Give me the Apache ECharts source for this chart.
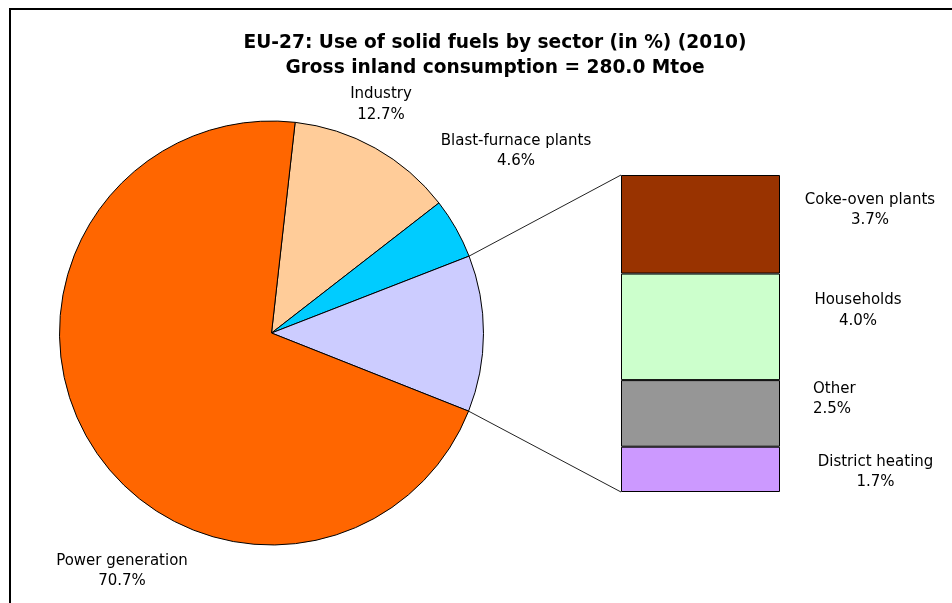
<!DOCTYPE html>
<html>
<head>
<meta charset="utf-8">
<script src="https://cdn.jsdelivr.net/npm/echarts@6/dist/echarts.min.js"></script>
<style>
html,body{margin:0;padding:0;background:#fff;}
#main{width:952px;height:603px;}
</style>
</head>
<body>
<div id="main"></div>
<script>
// ---- data ----
const mainCategories = ['Industry', 'Blast-furnace plants', 'Power generation'];
const mainValues = [12.7, 4.6, 70.7];
const subCategories = ['Coke-oven plants', 'Households', 'Other', 'District heating'];
const subValues = [3.7, 4.0, 2.5, 1.7];
const titleLines = ['EU-27: Use of solid fuels by sector (in %) (2010)', 'Gross inland consumption = 280.0 Mtoe'];

// ---- styles ----
const mainColors = ['#FFCC99', '#00CCFF', '#FF6600'];
const groupColor = '#CCCCFF';
const subColors = ['#993300', '#CCFFCC', '#969696', '#CC99FF'];
const FONT = 'DejaVu Sans';

const subTotal = +subValues.reduce((a, b) => a + b, 0).toFixed(1);

// pie order (clockwise): Industry, Blast-furnace, [group], Power generation
const pieData = [
  { name: mainCategories[0], value: mainValues[0], itemStyle: { color: mainColors[0] } },
  { name: mainCategories[1], value: mainValues[1], itemStyle: { color: mainColors[1] } },
  { name: 'Other sectors', value: subTotal, itemStyle: { color: groupColor }, label: { show: false } },
  { name: mainCategories[2], value: mainValues[2], itemStyle: { color: mainColors[2] } }
];

const PIE_CENTER = [271.5, 333];
const PIE_R = 212;
const START_ANGLE = 83.6;

const pieLabelPos = {
  0: { x: 381, y: 104.5 },
  1: { x: 516, y: 151 },
  3: { x: 122, y: 571 }
};
const barLabelPos = [
  { x: 870, y: 210, align: 'center' },
  { x: 858, y: 310.5, align: 'center' },
  { x: 813, y: 399, align: 'left' },
  { x: 875.5, y: 472, align: 'center' }
];

const chart = echarts.init(document.getElementById('main'), null, { renderer: 'canvas' });

const labelStyle = {
  fontFamily: FONT,
  fontSize: 15,
  lineHeight: 20.5,
  color: '#000',
  overflow: 'none'
};

const barSeries = subCategories.map((name, i) => ({
  type: 'bar',
  name: name,
  stack: 'sub',
  barWidth: '100%',
  data: [subValues[i]],
  itemStyle: { color: subColors[i], borderColor: '#000', borderWidth: 1 },
  label: Object.assign({
    show: true,
    position: 'right',
    formatter: p => p.seriesName + '\n' + p.value.toFixed(1) + '%'
  }, labelStyle),
  labelLayout: () => ({ x: barLabelPos[i].x, y: barLabelPos[i].y, align: barLabelPos[i].align, verticalAlign: 'middle' }),
  emphasis: { disabled: true },
  silent: true
}));

const option = {
  animation: false,
  backgroundColor: '#fff',
  title: {
    text: titleLines.join('\n'),
    left: 490,
    top: 26,
    textAlign: 'center',
    textStyle: { fontFamily: FONT, fontWeight: 'bold', fontSize: 18.6, lineHeight: 25, color: '#000' }
  },
  grid: { left: 621, top: 175, width: 159, height: 317, containLabel: false },
  xAxis: { type: 'category', data: ['sub'], show: false, boundaryGap: true },
  yAxis: { type: 'value', min: 0, max: subTotal, inverse: true, show: false },
  series: [
    {
      type: 'pie',
      center: PIE_CENTER,
      radius: PIE_R,
      startAngle: START_ANGLE,
      clockwise: true,
      data: pieData,
      itemStyle: { borderColor: '#000', borderWidth: 1 },
      label: Object.assign({
        show: true,
        position: 'outside',
        alignTo: 'none',
        edgeDistance: 0,
        bleedMargin: 0,
        width: 400,
        formatter: p => p.name + '\n' + p.value.toFixed(1) + '%'
      }, labelStyle),
      labelLine: { show: false },
      labelLayout: p => {
        const pos = pieLabelPos[p.dataIndex];
        if (!pos) return {};
        return { x: pos.x, y: pos.y, align: 'center', verticalAlign: 'middle' };
      },
      emphasis: { disabled: true },
      silent: true
    }
  ].concat(barSeries)
};

chart.setOption(option);

// connector lines from the group slice edges to the bar corners
function drawConnectors() {
  const total = pieData.reduce((s, d) => s + d.value, 0);
  const before = pieData[0].value + pieData[1].value;
  const a1 = (START_ANGLE - before / total * 360) * Math.PI / 180;
  const a2 = (START_ANGLE - (before + subTotal) / total * 360) * Math.PI / 180;
  const p1 = [PIE_CENTER[0] + PIE_R * Math.cos(a1), PIE_CENTER[1] - PIE_R * Math.sin(a1)];
  const p2 = [PIE_CENTER[0] + PIE_R * Math.cos(a2), PIE_CENTER[1] - PIE_R * Math.sin(a2)];
  const gridRect = chart.getModel().getComponent('grid').coordinateSystem.getRect();
  const yTop = chart.convertToPixel({ yAxisIndex: 0 }, 0);
  const yBot = chart.convertToPixel({ yAxisIndex: 0 }, subTotal);
  const xl = gridRect.x;
  chart.setOption({
    graphic: [
      { type: 'line', shape: { x1: p1[0], y1: p1[1], x2: xl, y2: yTop }, style: { stroke: '#222', lineWidth: 1 }, silent: true },
      { type: 'line', shape: { x1: p2[0], y1: p2[1], x2: xl, y2: yBot }, style: { stroke: '#222', lineWidth: 1 }, silent: true },
      { type: 'rect', shape: { x: 10, y: 9, width: 970, height: 620 }, style: { fill: 'none', stroke: '#000', lineWidth: 2 }, silent: true, z: 100 }
    ]
  });
}
drawConnectors();
</script>
</body>
</html>
